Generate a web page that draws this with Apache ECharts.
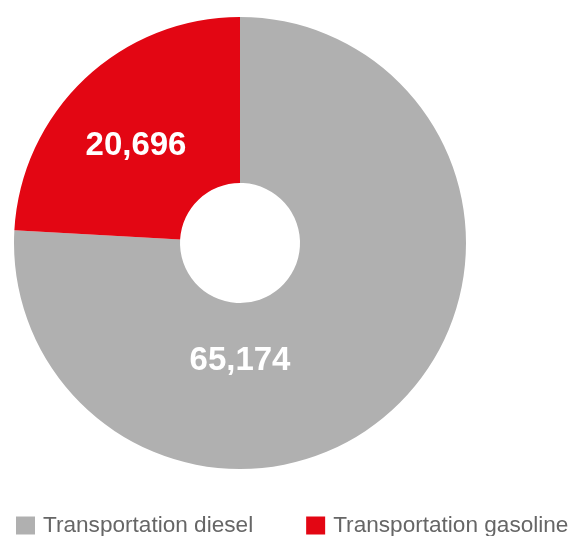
<!DOCTYPE html>
<html>
<head>
<meta charset="utf-8">
<script src="https://cdn.jsdelivr.net/npm/echarts@6/dist/echarts.min.js"></script>
<style>
  html, body { margin: 0; padding: 0; background: #fff; }
  #chart { width: 577px; height: 536px; }
</style>
</head>
<body>
<div id="chart"></div>
<script>
// Fuel volumes by product
const categories = ['Transportation diesel', 'Transportation gasoline'];
const volumes = [65174, 20696];
const colors = ['#b0b0b0', '#e30613'];
// Where each value label sits relative to the ring centre
const labelOffsets = [[0, 118], [-104, -97]];

const fmt = v => v.toLocaleString('en-US');

const chart = echarts.init(document.getElementById('chart'), null, { renderer: 'canvas' });

chart.setOption({
  animation: false,
  legend: {
    data: categories,
    left: 16,
    top: 514,
    padding: 0,
    itemWidth: 19,
    itemHeight: 18,
    itemGap: 53,
    icon: 'rect',
    selectedMode: false,
    textStyle: {
      fontFamily: 'Liberation Sans, Arial, sans-serif',
      fontSize: 22.6,
      lineHeight: 20,
      color: '#666666',
      padding: [0, 0, 0, 3]
    }
  },
  series: [{
    type: 'pie',
    center: [240, 243],
    radius: [60, 226],
    startAngle: 90,
    clockwise: true,
    silent: true,
    avoidLabelOverlap: false,
    labelLine: { show: false },
    data: categories.map((name, i) => ({
      name,
      value: volumes[i],
      itemStyle: { color: colors[i] },
      label: {
        show: true,
        position: 'center',
        offset: labelOffsets[i],
        formatter: p => fmt(p.value),
        color: '#ffffff',
        fontFamily: 'Liberation Sans, Arial, sans-serif',
        fontWeight: 'bold',
        fontSize: 33
      }
    }))
  }]
});
</script>
</body>
</html>
